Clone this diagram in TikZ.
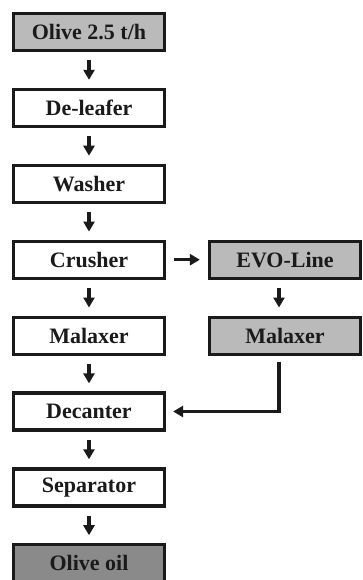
\documentclass[tikz,border=0pt]{standalone}
\usepackage{fontspec}
\setmainfont{Liberation Serif}
\usetikzlibrary{arrows.meta}
\definecolor{olink}{HTML}{1A1A1A}
\definecolor{olgrey}{HTML}{BABABA}
\definecolor{oldark}{HTML}{8A8A8A}
\tikzset{
  stagebox/.style={
    draw=olink, fill=white, line width=3.2pt,
    minimum width=151pt, minimum height=37pt, inner sep=0pt,
    font=\fontsize{22}{26}\selectfont\bfseries, text=olink},
  feedbox/.style={stagebox, fill=olgrey},
  productbox/.style={stagebox, fill=oldark},
  flowarrow/.style={
    -{Triangle[width=11pt, length=10pt]}, draw=olink, line width=3.2pt,
    shorten <=8pt, shorten >=8pt},
  returnline/.style={
    -{Triangle[width=11pt, length=10pt]}, draw=olink, line width=3.2pt,
    shorten <=6pt, shorten >=7pt},
}

\begin{document}
\begin{tikzpicture}[x=1pt, y=-1pt]
\clip (0,0) rectangle (362,580);
\useasboundingbox (0,0) rectangle (362,580);

% Main line.
\node[feedbox] (olive) at (89, 32) {Olive 2.5 t/h};
\node[stagebox] (deleafer) at (89, 107.9) {De-leafer};
\node[stagebox] (washer) at (89, 183.8) {Washer};
\node[stagebox] (crusher) at (89, 259.7) {Crusher};
\node[stagebox] (malaxer) at (89, 335.6) {Malaxer};
\node[stagebox] (decanter) at (89, 411.5) {Decanter};
\node[stagebox] (separator) at (89, 487.4) {Separator};
\node[productbox] (oil) at (89, 563.3) {Olive oil};

% EVO branch.
\node[feedbox] (evo) at (285, 259.7) {EVO-Line};
\node[feedbox] (evomalaxer) at (285, 335.6) {Malaxer};

\draw[flowarrow] (olive) -- (deleafer);
\draw[flowarrow] (deleafer) -- (washer);
\draw[flowarrow] (washer) -- (crusher);
\draw[flowarrow] (crusher) -- (malaxer);
\draw[flowarrow] (malaxer) -- (decanter);
\draw[flowarrow] (decanter) -- (separator);
\draw[flowarrow] (separator) -- (oil);
\draw[flowarrow] (crusher) -- (evo);
\draw[flowarrow] ([xshift=-6pt]evo.south) -- ([xshift=-6pt]evomalaxer.north);
\draw[returnline] ([xshift=-6pt]evomalaxer.south) |- (decanter.east);

\end{tikzpicture}
\end{document}
